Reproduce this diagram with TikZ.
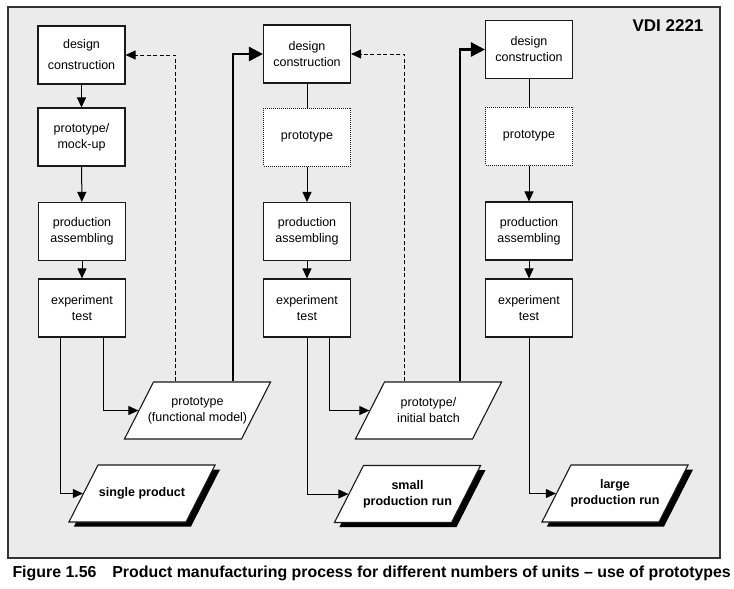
\documentclass[tikz,border=0pt]{standalone}
\usepackage{fontspec}
\setmainfont{Liberation Sans}
\usetikzlibrary{arrows.meta,shapes.geometric,shadows}

\begin{document}
\begin{tikzpicture}[x=1pt,y=-1pt,
  box/.style={draw=black!90,line width=1.1pt,fill=white,minimum width=87pt,minimum height=58pt,
    inner sep=0pt,align=center,font=\fontsize{12.5}{16}\selectfont},
  dotbox/.style={box,dash pattern=on 1pt off 1pt,line width=1pt},
  parabase/.style={trapezium,trapezium left angle=63,trapezium right angle=117,
    draw=black!90,line width=1.1pt,fill=white,inner xsep=44pt,inner ysep=28.5pt},
  para/.style={parabase,label={[align=center,font=\fontsize{12.5}{16}\selectfont]center:#1}},
  result/.style={parabase,drop shadow={fill=black,opacity=1,shadow xshift=5pt,shadow yshift=-4.5pt},
    label={[align=center,font=\fontsize{12.5}{16}\selectfont\bfseries]center:#1}},
  conn/.style={line width=1pt,-{Triangle[length=10pt,width=9pt]}},
  feedback/.style={conn,dash pattern=on 4pt off 2.5pt},
  handover/.style={line width=2.5pt,-{Triangle[length=14pt,width=14pt]}}
]
\useasboundingbox (0,0) rectangle (734,589);
\draw[fill=black!8,draw=black!80,line width=1.3pt] (8,7) rectangle (720,558);

\node[anchor=east,font=\fontsize{17}{20}\selectfont\bfseries] (vdi) at (707,26) {VDI 2221};

% one unit
\node[box] (designA) at (81.5,55) {design\\[5pt]construction};
\node[box] (protoA) at (81.5,137) {prototype/\\mock-up};
\node[box] (prodA) at (82,231.5) {production\\assembling};
\node[box] (testA) at (82,308) {experiment\\test};
\node[para={prototype\\(functional model)}] (modelA) at (197.5,410.5) {};
\node[result={single product}] (singleA) at (142,493.5) {};

% small run
\node[box] (designB) at (307,54) {design\\construction};
\node[dotbox] (protoB) at (307,137) {prototype};
\node[box] (prodB) at (307,231.5) {production\\assembling};
\node[box] (testB) at (307,308) {experiment\\test};
\node[para={prototype/\\initial batch}] (batchB) at (428.5,410.5) {};
\node[result={small\\production run}] (smallB) at (407.5,494) {};

% large run
\node[box] (designC) at (529,49.5) {design\\construction};
\node[dotbox] (protoC) at (529,136) {prototype};
\node[box] (prodC) at (529,231) {production\\assembling};
\node[box] (testC) at (529,308) {experiment\\test};
\node[result={large\\production run}] (largeC) at (615,493.5) {};

\draw[conn] (designA) -- (protoA);
\draw[conn] (protoA) -- (prodA);
\draw[conn] (prodA) -- (testA);
\draw[conn] ([xshift=21.5pt]testA.south) |- (modelA.west);
\draw[conn] ([xshift=-21.5pt]testA.south) |- (singleA.west);
\draw[feedback] ([xshift=22pt]modelA.top left corner) |- (designA.east);
\draw[handover] ([xshift=80pt]modelA.top left corner) |- (designB.west);

\draw[line width=1pt] (designB) -- (protoB);
\draw[conn] (protoB) -- (prodB);
\draw[conn] (prodB) -- (testB);
\draw[conn] ([xshift=22pt]testB.south) |- (batchB.west);
\draw[conn] (testB.south) |- (smallB.west);
\draw[feedback] ([xshift=20pt]batchB.top left corner) |- (designB.east);
\draw[handover] ([xshift=76pt]batchB.top left corner) |- (designC.west);

\draw[line width=1pt] (designC) -- (protoC);
\draw[conn] (protoC) -- (prodC);
\draw[conn] (prodC) -- (testC);
\draw[conn] (testC.south) |- (largeC.west);

\node[anchor=west,font=\fontsize{15.9}{18}\selectfont\bfseries] (caption) at (9,573)
  {Figure 1.56\quad Product manufacturing process for different numbers of units – use of prototypes};
\end{tikzpicture}
\end{document}
